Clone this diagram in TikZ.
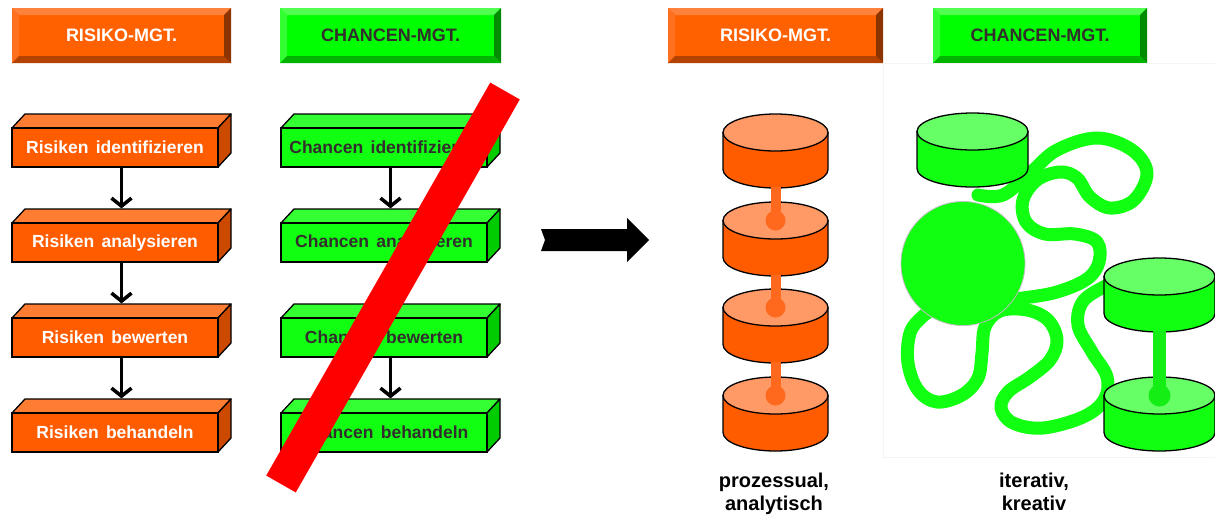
\documentclass[tikz,border=0pt]{standalone}
\usepackage{fontspec}
\setmainfont{Liberation Sans}
\usetikzlibrary{arrows.meta}
\definecolor{oF}{RGB}{255,92,0}
\definecolor{oT}{RGB}{255,125,50}
\definecolor{oS}{RGB}{204,74,0}
\definecolor{gF}{RGB}{17,255,17}
\definecolor{gT}{RGB}{51,255,51}
\definecolor{gS}{RGB}{0,204,0}
\definecolor{txtD}{RGB}{51,45,45}
\definecolor{hOface}{RGB}{255,96,0}
\definecolor{hOtop}{RGB}{255,130,60}
\definecolor{hOleft}{RGB}{255,112,30}
\definecolor{hObot}{RGB}{180,66,0}
\definecolor{hOright}{RGB}{140,52,0}
\definecolor{hGface}{RGB}{0,255,0}
\definecolor{hGtop}{RGB}{80,255,80}
\definecolor{hGleft}{RGB}{50,255,50}
\definecolor{hGbot}{RGB}{0,180,0}
\definecolor{hGright}{RGB}{0,140,0}
\definecolor{cOT}{RGB}{255,153,102}
\definecolor{cOS}{RGB}{255,105,30}
\definecolor{cGT}{RGB}{102,255,102}
\definecolor{cGS}{RGB}{20,238,20}
\definecolor{sq}{RGB}{17,255,17}
\newcommand\myboxfont{\fontsize{17.5}{20}\selectfont\bfseries\spaceskip 0.42em\relax}
\tikzset{
  hdrtext/.style={font=\fontsize{18}{20}\selectfont\bfseries, inner sep=0pt},
  boxnode/.style={draw=black, line width=1.3pt, minimum width=206pt, minimum height=39pt, inner sep=0pt, font=\myboxfont},
  edge3d/.style={draw=black, line width=1.3pt, line join=round},
  conn/.style={line width=3.5pt, -{Straight Barb[length=8pt,width=20pt]}},
  cylline/.style={draw=black, line width=1.3pt},
  lbl/.style={font=\fontsize{20}{23}\selectfont\bfseries, align=center, inner sep=0pt, anchor=north},
  squig/.style={draw=sq, line width=13pt, line cap=round, line join=round}
}
\newcommand\hdr[6]{%
  \fill[#4face] (#2,8) rectangle (#3,63);
  \fill[#4top] (#2,8) -- (#3,8) -- ({#3-7},15) -- ({#2+7},15) -- cycle;
  \fill[#4left] (#2,8) -- ({#2+7},15) -- ({#2+7},56) -- (#2,63) -- cycle;
  \fill[#4bot] (#2,63) -- ({#2+7},56) -- ({#3-7},56) -- (#3,63) -- cycle;
  \fill[#4right] (#3,8) -- (#3,63) -- ({#3-7},56) -- ({#3-7},15) -- cycle;
  \node[hdrtext, text=#5] (#1) at ({(#2+#3)/2},35.5) {#6};
}
\newcommand\tdbox[6]{%
  \filldraw[edge3d, fill=#4T] (#2,#3) -- ({#2+13},{#3-14}) -- ({#2+219},{#3-14}) -- ({#2+206},#3) -- cycle;
  \filldraw[edge3d, fill=#4S] ({#2+206},#3) -- ({#2+219},{#3-14}) -- ({#2+219},{#3+25}) -- ({#2+206},{#3+39}) -- cycle;
  \node[boxnode, fill=#4F, text=#5] (#1) at ({#2+103},{#3+19.5}) {#6};
}
\newcommand\cyl[6]{%
  \filldraw[cylline, fill=#5] ({#2-#4},{#3+18.5}) -- ({#2-#4},{#3+55.5}) arc[start angle=180, end angle=0, x radius=#4, y radius=18.5] -- ({#2+#4},{#3+18.5}) -- cycle;
  \filldraw[cylline, fill=#6] (#2,{#3+18.5}) ellipse[x radius=#4, y radius=18.5];
  \coordinate (#1-top) at (#2,{#3+18.5});
  \coordinate (#1-bot) at (#2,{#3+73});
}
\begin{document}
\begin{tikzpicture}[x=1pt, y=-1pt]
\useasboundingbox (0,0) rectangle (1215,515);
\fill[white] (0,0) rectangle (1215,515);

% headers
\hdr{hL1}{12}{231}{hO}{white}{RISIKO-MGT.}
\hdr{hL2}{280}{501}{hG}{txtD}{CHANCEN-MGT.}
\hdr{hR1}{668}{883}{hO}{white}{RISIKO-MGT.}
\hdr{hR2}{933}{1147}{hG}{txtD}{CHANCEN-MGT.}

% left process
\tdbox{r1}{12}{128}{o}{white}{Risiken identifizieren}
\tdbox{r2}{12}{223}{o}{white}{Risiken analysieren}
\tdbox{r3}{12}{318}{o}{white}{Risiken bewerten}
\tdbox{r4}{12}{413}{o}{white}{Risiken behandeln}
\foreach \a/\b in {r1/r2,r2/r3,r3/r4}
  \draw[conn] ([xshift=6.5pt]\a.south) -- ([xshift=6.5pt,yshift=14pt]\b.north);

\tdbox{c1}{281}{128}{g}{txtD}{Chancen identifizieren}
\tdbox{c2}{281}{223}{g}{txtD}{Chancen analysieren}
\tdbox{c3}{281}{318}{g}{txtD}{Chancen bewerten}
\tdbox{c4}{281}{413}{g}{txtD}{Chancen behandeln}
\foreach \a/\b in {c1/c2,c2/c3,c3/c4}
  \draw[conn] ([xshift=6.5pt]\a.south) -- ([xshift=6.5pt,yshift=14pt]\b.north);

% red slash
\draw[red, line width=34pt] (281,484) -- (505,91);

% big arrow
\fill[black] (541,229) -- (627,229) -- (627,218) -- (649,240) -- (627,262) -- (627,251) -- (541,251) -- (545,240) -- cycle;

% faint frame of the right image
\draw[black!4, line width=0.8pt] (883,63) rectangle (1216,457);

% orange cylinders
\cyl{o1}{775.5}{114}{52.5}{oF}{cOT}
\cyl{o2}{775.5}{202}{52.5}{oF}{cOT}
\cyl{o3}{775.5}{289}{52.5}{oF}{cOT}
\cyl{o4}{775.5}{377}{52.5}{oF}{cOT}
\foreach \a/\b in {o1/o2,o2/o3,o3/o4}{
  \draw[cOS, line width=10pt] (\a-bot) -- (\b-top);
  \fill[cOS] (\b-top) circle[radius=10];
}

% green squiggles
\draw[squig] plot[smooth, tension=0.6] coordinates {(978,195) (1003,195) (1030,173) (1057,150) (1097,138) (1132,150) (1147,173) (1134,200) (1110,208) (1090,197) (1077,178) (1060,172) (1037,180) (1023,200) (1026,222) (1045,234) (1075,234) (1097,242) (1099,262) (1087,279) (1057,292) (1023,298) (1000,300)};
\draw[squig] plot[smooth, tension=0.6] coordinates {(1112,283) (1084,300) (1078,325) (1092,352) (1107,377) (1104,400) (1083,417) (1043,428) (1013,423) (1001,408) (1008,392) (1030,377) (1050,360) (1057,340) (1048,320) (1027,310) (1000,311) (985,327) (982,353) (978,378) (962,395) (937,402) (918,390) (908,363) (910,333) (922,317) (935,308)};

% big circle
\filldraw[fill=gF, draw=black!25, line width=0.8pt] (963,263.5) circle[radius=62];

% green cylinders
\cyl{g1}{972.5}{113}{55.5}{gF}{cGT}
\cyl{g2}{1159.5}{258}{55.5}{gF}{cGT}
\cyl{g3}{1159.5}{377}{55.5}{gF}{cGT}
\draw[cGS, line width=13pt] (g2-bot) -- (g3-top);
\fill[cGS] (g3-top) circle[radius=11];

% labels
\node[lbl] (lp) at (774,473) {prozessual,\\analytisch};
\node[lbl] (lk) at (1034,473) {iterativ,\\kreativ};
\end{tikzpicture}
\end{document}
